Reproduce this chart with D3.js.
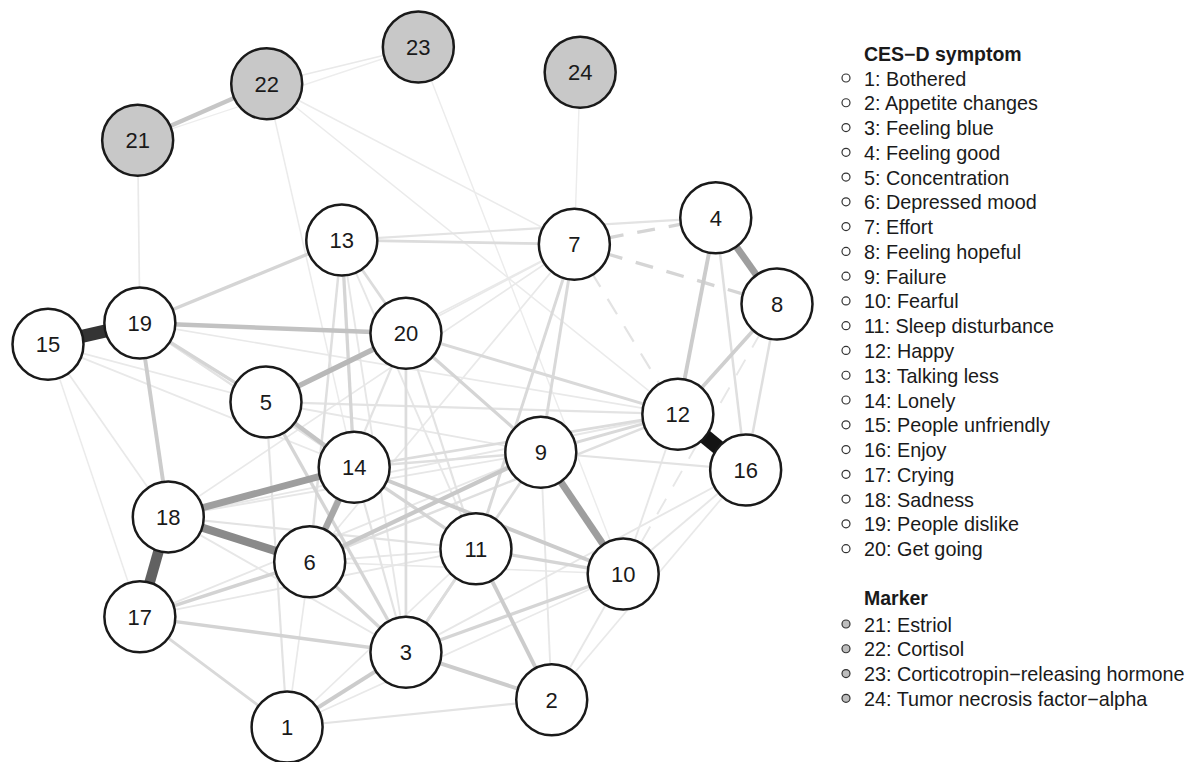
<!DOCTYPE html>
<html>
<head>
<meta charset="utf-8">
<script src="https://cdn.jsdelivr.net/npm/d3@7"></script>
<style>
  html, body { margin: 0; padding: 0; background: #ffffff; }
  svg { display: block; }
</style>
</head>
<body>
<svg id="chart" width="1204" height="762"></svg>
<script>
// ---- Data ----
const nodeIds = [1,2,3,4,5,6,7,8,9,10,11,12,13,14,15,16,17,18,19,20,21,22,23,24];
// layout coordinates (0..1)
const layoutX = [0.328,0.691,0.491,0.916,0.299,0.359,0.722,1.000,0.676,0.789,0.587,0.864,0.403,0.420,0.000,0.957,0.126,0.165,0.126,0.491,0.123,0.300,0.508,0.730];
const layoutY = [1.000,0.960,0.890,0.251,0.522,0.757,0.290,0.378,0.596,0.775,0.738,0.540,0.284,0.618,0.437,0.622,0.838,0.691,0.406,0.421,0.137,0.054,0.000,0.037];
const nodeGroup = ["CES-D symptom","CES-D symptom","CES-D symptom","CES-D symptom","CES-D symptom","CES-D symptom","CES-D symptom","CES-D symptom","CES-D symptom","CES-D symptom","CES-D symptom","CES-D symptom","CES-D symptom","CES-D symptom","CES-D symptom","CES-D symptom","CES-D symptom","CES-D symptom","CES-D symptom","CES-D symptom","Marker","Marker","Marker","Marker"];

const symptomLabels = ["Bothered","Appetite changes","Feeling blue","Feeling good","Concentration","Depressed mood","Effort","Feeling hopeful","Failure","Fearful","Sleep disturbance","Happy","Talking less","Lonely","People unfriendly","Enjoy","Crying","Sadness","People dislike","Get going"];
const markerLabels = ["Estriol","Cortisol","Corticotropin\u2212releasing hormone","Tumor necrosis factor\u2212alpha"];

// edges: source, target
const edgeFrom = [12,15,17,18,18,9,4,6,20,19,21,5,19,4,8,11,3,1,17,17,6,14,14,11,3,7,7,13,13,13,13,13,13,7,7,7,8,4,8,20,20,20,19,17,1,1,3,3,3,3,12,12,12,9,2,2,2,10,10,16,16,15,15,15,15,18,18,18,18,17,17,21,22,22,22,23,23,23,24,5,5,20,20,20,19,19,19,13,13,1,1,1,6,6,14,7,7,7];
const edgeTo   = [16,19,18,6,14,10,8,14,5,20,22,14,18,12,12,2,2,3,3,6,9,10,11,10,10,9,11,14,6,19,7,20,4,4,8,12,10,16,16,9,12,3,5,1,5,2,6,5,11,9,9,14,6,14,9,10,16,16,12,9,3,18,17,14,5,11,3,12,9,9,11,19,14,12,7,22,21,10,7,12,9,11,6,7,14,11,12,3,11,6,11,10,11,10,3,18,5,6];
// partial correlation weights (negative = dashed)
const edgeWeight = [1.00,0.90,0.75,0.60,0.52,0.52,0.52,0.48,0.40,0.35,0.33,0.34,0.30,0.30,0.28,0.30,0.30,0.30,0.26,0.26,0.32,0.30,0.25,0.25,0.25,0.22,0.22,0.25,0.18,0.25,0.20,0.20,0.15,-0.25,-0.25,-0.15,-0.12,0.18,0.18,0.25,0.22,0.20,0.25,0.22,0.15,0.15,0.25,0.25,0.20,0.20,0.22,0.20,0.18,0.18,0.12,0.12,0.10,0.12,0.12,0.15,0.12,0.10,0.08,0.10,0.10,0.15,0.12,0.12,0.12,0.12,0.12,0.10,0.08,0.08,0.08,0.10,0.06,0.07,0.07,0.15,0.12,0.15,0.15,0.10,0.15,0.10,0.10,0.12,0.12,0.10,0.10,0.10,0.12,0.10,0.15,0.10,0.10,0.10];

// ---- Build ----
const svg = d3.select("#chart");
const x = d3.scaleLinear().domain([0,1]).range([48,777]);
const y = d3.scaleLinear().domain([0,1]).range([47,727]);
const widthScale = d3.scalePow().exponent(1.3).domain([0,1]).range([1,15]);
const grayScale = d3.scalePow().exponent(1.5).domain([0,1]).range([240,20]);

const nodes = nodeIds.map((id,i) => ({id, lx: layoutX[i], ly: layoutY[i], group: nodeGroup[i]}));
const byId = new Map(nodes.map(n => [n.id, n]));
const edges = edgeFrom.map((s,i) => ({s: byId.get(s), t: byId.get(edgeTo[i]), w: edgeWeight[i]}))
  .sort((a,b) => Math.abs(a.w) - Math.abs(b.w));

const gEdges = svg.append("g");
gEdges.selectAll("line").data(edges).join("line")
  .attr("x1", d => x(d.s.lx)).attr("y1", d => y(d.s.ly))
  .attr("x2", d => x(d.t.lx)).attr("y2", d => y(d.t.ly))
  .attr("stroke", d => { const g = Math.round(grayScale(Math.abs(d.w))); return d3.rgb(g,g,g); })
  .attr("stroke-width", d => widthScale(Math.abs(d.w)))
  .attr("stroke-dasharray", d => d.w < 0 ? "18,14" : null);

const gNodes = svg.append("g");
const nodeG = gNodes.selectAll("g").data(nodes).join("g")
  .attr("transform", d => `translate(${x(d.lx)},${y(d.ly)})`);
nodeG.append("circle")
  .attr("r", 35.5)
  .attr("fill", d => d.group === "Marker" ? "#c8c8c8" : "#ffffff")
  .attr("stroke", "#1a1a1a")
  .attr("stroke-width", 2.5);
nodeG.append("text")
  .attr("text-anchor", "middle")
  .attr("dy", "0.36em")
  .attr("font-family", "Liberation Sans, Arial, sans-serif")
  .attr("font-size", 22)
  .attr("fill", "#1a1a1a")
  .text(d => d.id);

// ---- Legend ----
const legend = svg.append("g").attr("font-family", "Liberation Sans, Arial, sans-serif").attr("fill", "#1a1a1a");
const step = 24.77;
legend.append("text").attr("x", 864).attr("y", 61).attr("font-size", 19.5).attr("font-weight", "bold").text("CES\u2212D symptom");
const symItems = symptomLabels.map((l,i) => ({label: `${i+1}: ${l}`, cy: 78 + i*step, fill: "#ffffff"}));
const mkItems = markerLabels.map((l,i) => ({label: `${i+21}: ${l}`, cy: 624 + i*step, fill: "#bdbdbd"}));
legend.append("text").attr("x", 864).attr("y", 605).attr("font-size", 19.5).attr("font-weight", "bold").text("Marker");
const items = symItems.concat(mkItems);
legend.selectAll("circle.li").data(items).join("circle").attr("class","li")
  .attr("cx", 846).attr("cy", d => d.cy).attr("r", 4)
  .attr("fill", d => d.fill).attr("stroke", "#333").attr("stroke-width", 1.2);
legend.selectAll("text.lt").data(items).join("text").attr("class","lt")
  .attr("x", 864).attr("y", d => d.cy + 7.5)
  .attr("font-size", 19.8)
  .text(d => d.label);
</script>
